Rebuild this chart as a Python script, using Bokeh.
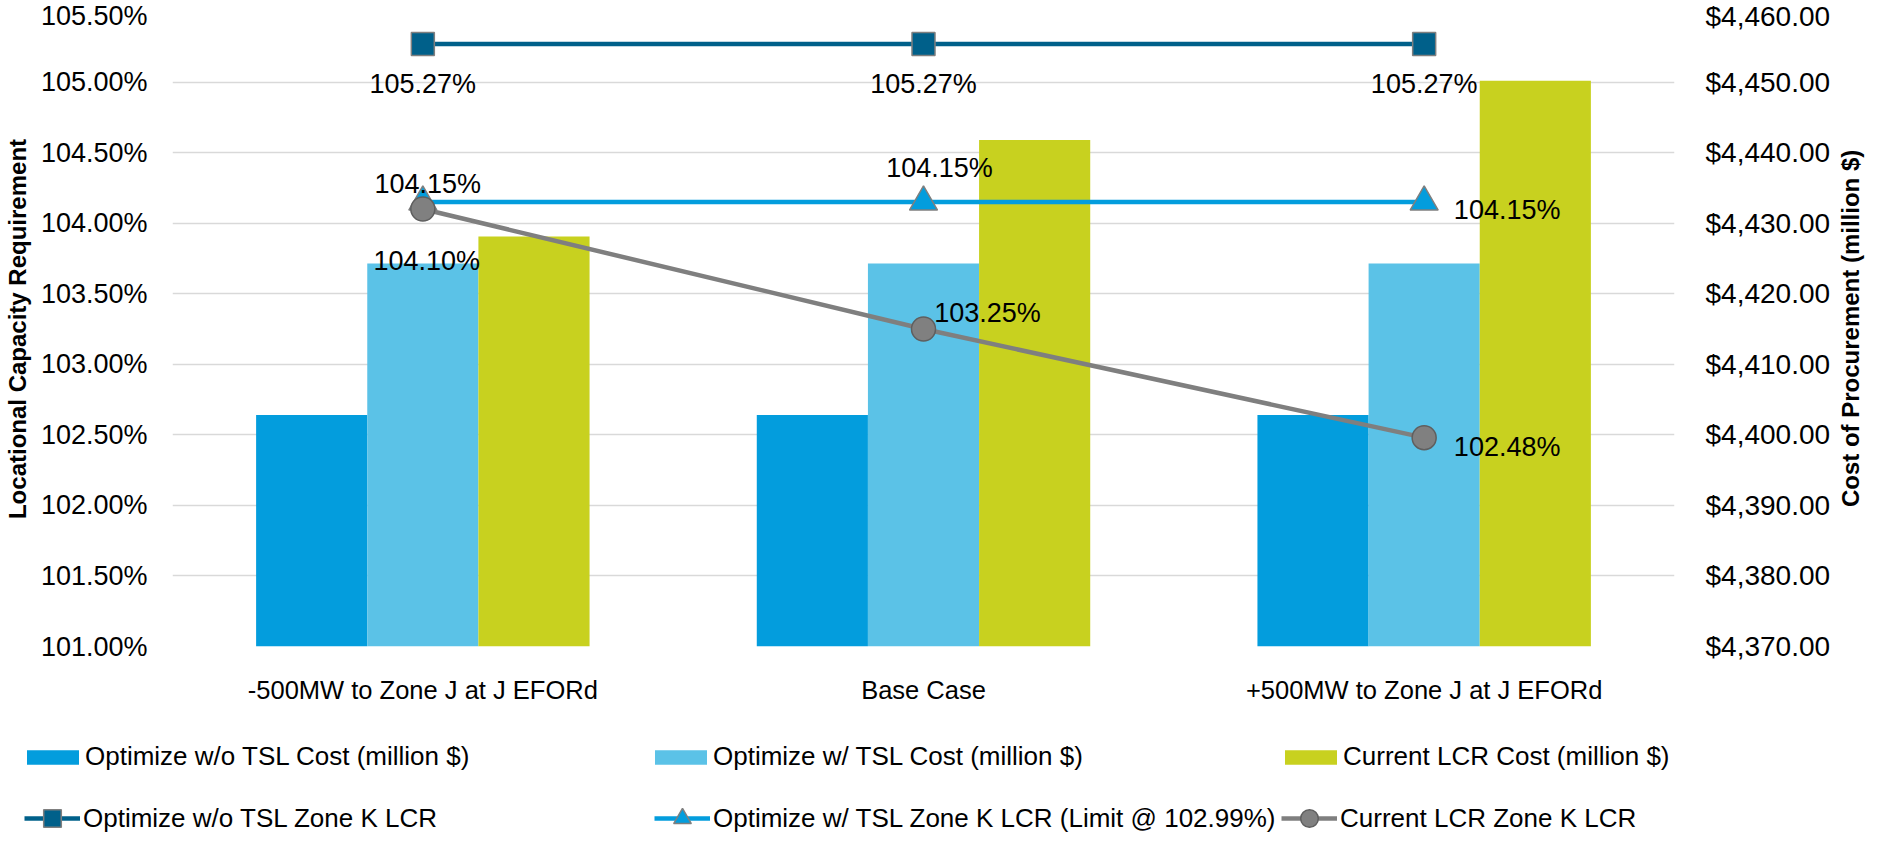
import math
from bokeh.plotting import figure
from bokeh.layouts import column, row
from bokeh.models import (FactorRange, Range1d, LinearAxis, FixedTicker, PrintfTickFormatter,
                          NumeralTickFormatter, ColumnDataSource, LabelSet, Label, Legend, LegendItem)
from bokeh.transform import dodge
from bokeh.embed import file_html
from bokeh.resources import INLINE
from bokeh.core.properties import value

# ---------------- data ----------------
categories = ["-500MW to Zone J at J EFORd", "Base Case", "+500MW to Zone J at J EFORd"]

cost_wo_tsl = [4402.8, 4402.8, 4402.8]      # Optimize w/o TSL Cost (million $)
cost_w_tsl = [4424.3, 4424.3, 4424.3]       # Optimize w/ TSL Cost (million $)
cost_current = [4428.1, 4441.8, 4450.2]     # Current LCR Cost (million $)

lcr_wo_tsl = [105.27, 105.27, 105.27]       # Optimize w/o TSL Zone K LCR
lcr_w_tsl = [104.15, 104.15, 104.15]        # Optimize w/ TSL Zone K LCR (Limit @ 102.99%)
lcr_current = [104.10, 103.25, 102.48]      # Current LCR Zone K LCR

lcr_ticks = [101.0, 101.5, 102.0, 102.5, 103.0, 103.5, 104.0, 104.5, 105.0, 105.5]
cost_ticks = [4370, 4380, 4390, 4400, 4410, 4420, 4430, 4440, 4450, 4460]

bar_names = ["Optimize w/o TSL Cost (million $)", "Optimize w/ TSL Cost (million $)",
             "Current LCR Cost (million $)"]
line_names = ["Optimize w/o TSL Zone K LCR", "Optimize w/ TSL Zone K LCR (Limit @ 102.99%)",
              "Current LCR Zone K LCR"]
left_title = "Locational Capacity Requirement"
right_title = "Cost of Procurement (million $)"

# ---------------- style ----------------
FONT = "Liberation Sans"
C_DARK = "#039DDD"
C_LIGHT = "#5BC2E7"
C_YEL = "#C8D11F"
C_SQ = "#00608A"
C_TRI = "#039DDD"
C_GRAY = "#7F7F7F"
BAR_W = 0.222

# data-label offsets (screen px) per series / point
off_sq = ([0, 0, 0], [-40, -40, -40])
off_tri = ([5, 16, 83], [18, 34, -8])
off_cir = ([4, 64, 83], [-52, 16, -9])

MAIN_W, MAIN_H, SIDE_W, LEG_H = 1833, 716, 34, 118

p = figure(width=MAIN_W, height=MAIN_H, x_range=FactorRange(*categories),
           y_range=Range1d(lcr_ticks[0], lcr_ticks[-1]),
           output_backend="svg", toolbar_location=None,
           min_border_left=167, min_border_right=156, min_border_top=11, min_border_bottom=70)
p.extra_y_ranges = {"cost": Range1d(cost_ticks[0], cost_ticks[-1])}
p.outline_line_color = None
p.background_fill_color = "white"

p.xgrid.grid_line_color = None
p.ygrid.grid_line_color = "#D9D9D9"
p.ygrid.grid_line_width = 1.5

# left axis
ly = p.yaxis[0]
ly.ticker = FixedTicker(ticks=lcr_ticks)
ly.formatter = PrintfTickFormatter(format="%.2f%%")
ly.axis_label = left_title

# right axis (tick labels)
ry = LinearAxis(y_range_name="cost", ticker=FixedTicker(ticks=cost_ticks),
                formatter=NumeralTickFormatter(format="$0,0.00"))
p.add_layout(ry, "right")

for ax, fs, so, lso in ((ly, "27px", 25, 7), (ry, "28px", 31, 0)):
    ax.axis_line_color = None
    ax.major_tick_line_color = None
    ax.minor_tick_line_color = None
    ax.major_tick_out = 0
    ax.major_tick_in = 0
    ax.minor_tick_out = 0
    ax.minor_tick_in = 0
    ax.major_label_text_font = FONT
    ax.major_label_text_font_size = fs
    ax.major_label_text_color = "#000000"
    ax.major_label_standoff = so
    ax.axis_label_text_font = FONT
    ax.axis_label_text_font_style = "bold"
    ax.axis_label_text_font_size = "24px"
    ax.axis_label_text_color = "#000000"
    ax.axis_label_standoff = lso

xa = p.xaxis[0]
xa.axis_line_color = None
xa.major_tick_line_color = None
xa.minor_tick_line_color = None
xa.major_tick_out = 0
xa.major_tick_in = 0
xa.major_label_text_font = FONT
xa.major_label_text_font_size = "25.5px"
xa.major_label_text_color = "#000000"
xa.major_label_standoff = 29

# bars
bsrc = ColumnDataSource(dict(cat=categories, a=cost_wo_tsl, b=cost_w_tsl, c=cost_current))
p.vbar(x=dodge("cat", -BAR_W, range=p.x_range), top="a", bottom=cost_ticks[0], width=BAR_W,
       source=bsrc, y_range_name="cost", fill_color=C_DARK, line_color=None)
p.vbar(x=dodge("cat", 0, range=p.x_range), top="b", bottom=cost_ticks[0], width=BAR_W,
       source=bsrc, y_range_name="cost", fill_color=C_LIGHT, line_color=None)
p.vbar(x=dodge("cat", BAR_W, range=p.x_range), top="c", bottom=cost_ticks[0], width=BAR_W,
       source=bsrc, y_range_name="cost", fill_color=C_YEL, line_color=None)

# lines
def series(vals, offs):
    return ColumnDataSource(dict(cat=categories, v=vals, t=[f"{x:.2f}%" for x in vals],
                                 dx=offs[0], dy=offs[1]))

s_sq = series(lcr_wo_tsl, off_sq)
s_tri = series(lcr_w_tsl, off_tri)
s_cir = series(lcr_current, off_cir)

SQ_STYLE = dict(marker="square", size=23, fill_color=C_SQ, line_color=C_GRAY, line_width=1.5)
TRI_STYLE = dict(marker="triangle", size=28, fill_color=C_TRI, line_color=C_GRAY, line_width=1.5)
CIR_STYLE = dict(marker="circle", size=24, fill_color="#808080", line_color="#5F5F5F", line_width=1.5)

p.line("cat", "v", source=s_sq, line_color=C_SQ, line_width=4.5)
p.scatter("cat", "v", source=s_sq, **SQ_STYLE)
p.line("cat", "v", source=s_tri, line_color=C_TRI, line_width=4.5)
p.scatter("cat", "v", source=s_tri, **TRI_STYLE)
p.line("cat", "v", source=s_cir, line_color=C_GRAY, line_width=4.5)
p.scatter("cat", "v", source=s_cir, **CIR_STYLE)

for s in (s_sq, s_tri, s_cir):
    p.add_layout(LabelSet(x="cat", y="v", text="t", source=s, x_offset="dx", y_offset="dy",
                          text_align="center", text_baseline="middle",
                          text_font=value(FONT), text_font_size="27px", text_color="#000000"))

# ---------------- right-hand strip holding the secondary axis title ----------------
rf = figure(width=SIDE_W, height=MAIN_H, x_range=Range1d(0, 1), y_range=Range1d(0, 1),
            output_backend="svg", toolbar_location=None, x_axis_location=None,
            y_axis_location=None, min_border=0)
rf.outline_line_color = None
rf.grid.visible = False
rf.add_layout(Label(x=0.5, y=0.542, text=right_title, angle=math.pi / 2,
                    text_align="center", text_baseline="middle", text_font=FONT,
                    text_font_style="bold", text_font_size="24px", text_color="#000000"))

# ---------------- legend strip ----------------
lf = figure(width=MAIN_W + SIDE_W, height=LEG_H, x_range=Range1d(0, 1), y_range=Range1d(0, 1),
            output_backend="svg", toolbar_location=None, x_axis_location=None,
            y_axis_location=None, min_border=0)
lf.outline_line_color = None
lf.grid.visible = False
for fig in (p, rf, lf):
    try:
        fig.frame_align = False
    except Exception:
        pass

# legend proxies: one point each, placed outside the strip's visible range
kw = dict(x=[2], top=[2], bottom=[1.5], width=0.1, line_color=None)
lg_a = lf.vbar(fill_color=C_DARK, **kw)
lg_b = lf.vbar(fill_color=C_LIGHT, **kw)
lg_c = lf.vbar(fill_color=C_YEL, **kw)
lg_sq = [lf.line(x=[2, 3], y=[2, 2], line_color=C_SQ, line_width=4.5),
         lf.scatter(x=[2], y=[2], **SQ_STYLE)]
lg_tri = [lf.line(x=[2, 3], y=[2, 2], line_color=C_TRI, line_width=4.5),
          lf.scatter(x=[2], y=[2], **TRI_STYLE)]
lg_cir = [lf.line(x=[2, 3], y=[2, 2], line_color=C_GRAY, line_width=4.5),
          lf.scatter(x=[2], y=[2], **CIR_STYLE)]

def add_legend(label, renderers, loc, gw, gh, standoff):
    lg = Legend(items=[LegendItem(label=value(label), renderers=renderers)], location=loc,
                glyph_width=gw, glyph_height=gh, label_standoff=standoff, padding=0, margin=0,
                spacing=0, border_line_color=None, background_fill_alpha=0,
                label_text_font=FONT, label_text_font_size="26px", label_text_color="#000000")
    lf.add_layout(lg, "center")

add_legend(bar_names[0], [lg_a], (20, 62), 65, 18, 0)
add_legend(bar_names[1], [lg_b], (648, 62), 65, 18, 0)
add_legend(bar_names[2], [lg_c], (1278, 62), 65, 18, 0)
add_legend(line_names[0], lg_sq, (24, -6), 56, 44, 3)
add_legend(line_names[1], lg_tri, (654, -6), 56, 44, 3)
add_legend(line_names[2], lg_cir, (1281, -6), 56, 44, 3)

layout = column(row(p, rf, spacing=0), lf, spacing=0)
open("out.html", "w").write(file_html(layout, INLINE))
